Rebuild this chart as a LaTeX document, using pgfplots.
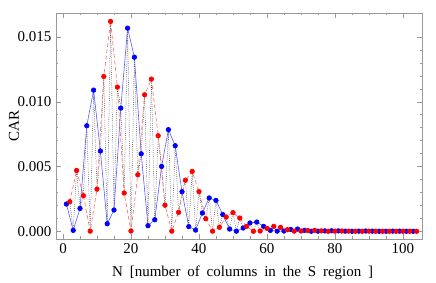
\documentclass[border=0pt]{standalone}
\usepackage{fontspec}
\setmainfont{Liberation Serif}
\usepackage{pgfplots}
\usepackage{pgfplotstable}
\pgfplotsset{compat=1.18}

\definecolor{bline}{rgb}{0.35,0.35,1}
\definecolor{rline}{rgb}{1,0.4,0.4}
\definecolor{bmark}{rgb}{0,0,1}
\definecolor{rmark}{rgb}{1,0,0}
\definecolor{framec}{rgb}{0.6,0.6,0.6}

\pgfplotstableread{
N val
1 0.00211
3 0.00008
5 0.00177
7 0.00815
9 0.01090
11 0.00620
13 0.00059
15 0.00165
17 0.00951
19 0.01568
21 0.01344
23 0.00599
25 0.00044
27 0.00090
29 0.00501
31 0.00785
33 0.00661
35 0.00306
37 0.00037
39 0.00010
41 0.00142
43 0.00258
45 0.00239
47 0.00130
49 0.00018
51 0.00002
53 0.00026
55 0.00065
57 0.00072
59 0.00039
61 0.00008
63 0.00002
65 0.00003
67 0.00015
69 0.00018
71 0.00008
73 0.00001
75 0.00002
77 0.00004
79 0.00005
81 0.00004
83 0.00002
85 0.00001
87 0.00002
89 0.00003
91 0.00002
93 0.00001
95 0.00001
97 0.00002
99 0.00002
101 0.00001
103 0.00001
}\bluetab

\pgfplotstableread{
N val
2 0.00229
4 0.00470
6 0.00275
8 0.00002
10 0.00326
12 0.01195
14 0.01620
16 0.01113
18 0.00296
20 0.00003
22 0.00437
24 0.01054
26 0.01175
28 0.00738
30 0.00202
32 0.00002
34 0.00147
36 0.00395
38 0.00463
40 0.00307
42 0.00098
44 0.00002
46 0.00032
48 0.00111
50 0.00145
52 0.00103
54 0.00039
56 0.00001
58 0.00003
60 0.00023
62 0.00039
64 0.00031
66 0.00013
68 0.00002
70 0.00003
72 0.00006
74 0.00008
76 0.00004
78 0.00001
80 0.00002
82 0.00003
84 0.00002
86 0.00001
88 0.00001
90 0.00002
92 0.00001
94 0.00001
96 0.00001
98 0.00001
100 0.00001
102 0.00001
104 0.00001
}\redtab

\pgfplotstableread{
N val
1 0.00211
2 0.00229
3 0.00008
4 0.00470
5 0.00177
6 0.00275
7 0.00815
8 0.00002
9 0.01090
10 0.00326
11 0.00620
12 0.01195
13 0.00059
14 0.01620
15 0.00165
16 0.01113
17 0.00951
18 0.00296
19 0.01568
20 0.00003
21 0.01344
22 0.00437
23 0.00599
24 0.01054
25 0.00044
26 0.01175
27 0.00090
28 0.00738
29 0.00501
30 0.00202
31 0.00785
32 0.00002
33 0.00661
34 0.00147
35 0.00306
36 0.00395
37 0.00037
38 0.00463
39 0.00010
40 0.00307
41 0.00142
42 0.00098
43 0.00258
44 0.00002
45 0.00239
46 0.00032
47 0.00130
48 0.00111
49 0.00018
50 0.00145
51 0.00002
52 0.00103
53 0.00026
54 0.00039
55 0.00065
56 0.00001
57 0.00072
58 0.00003
59 0.00039
60 0.00023
61 0.00008
62 0.00039
63 0.00002
64 0.00031
65 0.00003
66 0.00013
67 0.00015
68 0.00002
69 0.00018
70 0.00003
71 0.00008
72 0.00006
73 0.00001
74 0.00008
75 0.00002
76 0.00004
77 0.00004
78 0.00001
79 0.00005
80 0.00002
81 0.00004
82 0.00003
83 0.00002
84 0.00002
85 0.00001
86 0.00001
87 0.00002
88 0.00001
89 0.00003
90 0.00002
91 0.00002
92 0.00001
93 0.00001
94 0.00001
95 0.00001
96 0.00001
97 0.00002
98 0.00001
99 0.00002
100 0.00001
101 0.00001
102 0.00001
103 0.00001
104 0.00001
}\alltab

\begin{document}
\begin{tikzpicture}
\begin{axis}[
  scale only axis, width=366pt, height=226pt,
  xmin=-2.06, xmax=105.6, ymin=-0.000586, ymax=0.01685,
  axis line style={framec},
  every tick/.style={framec, line width=0.5pt},
  major tick length=5pt, minor tick length=2.5pt,
  tick align=inside,
  xtick={0,20,40,60,80,100}, minor x tick num=3,
  ytick={0,0.005,0.01,0.015}, minor y tick num=4,
  scaled y ticks=false,
  yticklabel style={/pgf/number format/fixed, /pgf/number format/fixed zerofill, /pgf/number format/precision=3, xshift=-1pt},
  /pgf/number format/assume math mode=true,
  ticklabel style={font=\fontsize{15}{15}\selectfont, text=black},
  xticklabel style={yshift=-1pt},
  label style={font=\fontsize{15}{15}\selectfont},
  xlabel={\spaceskip=6.8pt N [number of columns in the S region ]},
  ylabel={CAR},
  xlabel style={at={(axis description cs:0.51,-0.15)}, anchor=center},
  ylabel style={at={(axis description cs:-0.115,0.5)}, anchor=center},
  clip=false,
]
\addplot[black!80, line width=0.5pt, dash pattern=on 0.7pt off 1.4pt] table[x=N,y=val] {\alltab};
\addplot[bline, line width=0.6pt, mark=*, mark size=2.3pt, mark options={solid, fill=bmark, draw=bmark}] table[x=N,y=val] {\bluetab};
\addplot[rline, line width=0.6pt, dash pattern=on 4pt off 2.5pt, mark=*, mark size=2.3pt, mark options={solid, fill=rmark, draw=rmark}] table[x=N,y=val] {\redtab};
\end{axis}
\pgfresetboundingbox
\useasboundingbox ([xshift=-56pt,yshift=-43.7pt]current axis.south west) rectangle ([xshift=14pt,yshift=13pt]current axis.north east);
\end{tikzpicture}
\end{document}
